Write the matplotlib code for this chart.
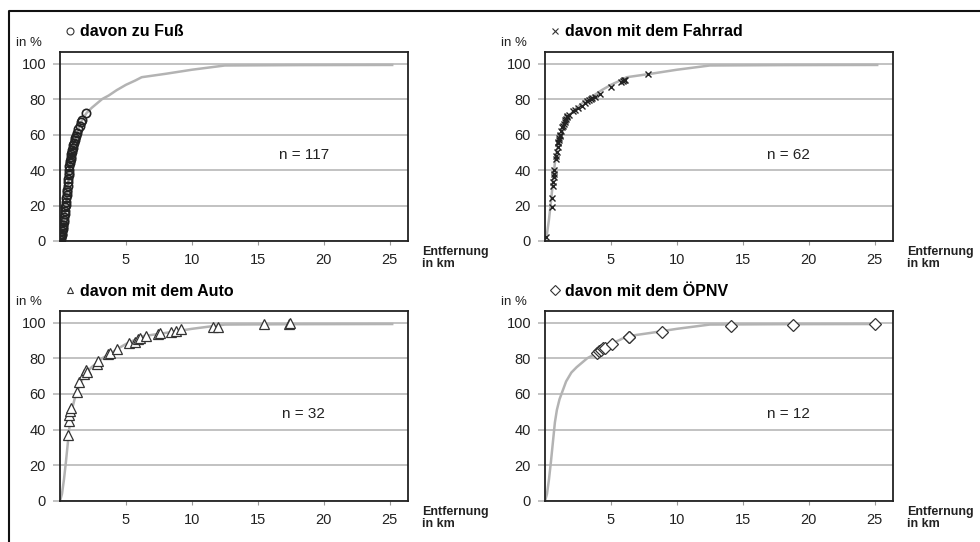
import matplotlib.pyplot as plt
from matplotlib.lines import Line2D

plt.rcParams['font.family'] = ['Liberation Sans', 'DejaVu Sans']

# Gesamtkurve (kumulierter Anteil aller Wege nach Entfernung)
total_km = [0, 0.15, 0.3, 0.45, 0.6, 0.75, 0.9, 1.1, 1.3, 1.6, 2.0, 2.4, 2.8, 3.2, 3.7,
            4.3, 5.0, 5.7, 6.2, 8.0, 10.0, 12.5, 18.0, 25.2]
total_pct = [0, 4, 12, 22, 33, 44, 51, 57, 61, 67, 72, 75, 77.5, 80, 82,
             85, 88, 90.4, 92.3, 94.2, 96.5, 98.9, 99.1, 99.2]

fuss_km = [0.02, 0.05, 0.08, 0.1, 0.12, 0.15, 0.17, 0.2, 0.22, 0.25, 0.27, 0.3, 0.32, 0.35,
           0.37, 0.4, 0.42, 0.45, 0.47, 0.5, 0.52, 0.55, 0.57, 0.6, 0.62, 0.65, 0.67, 0.7,
           0.72, 0.75, 0.78, 0.8, 0.83, 0.85, 0.88, 0.9, 0.95, 1.0, 1.05, 1.1, 1.15, 1.2,
           1.3, 1.4, 1.5, 1.6, 1.7, 2.0]
fuss_pct = [0.5, 1, 2, 3, 3.5, 4, 5.5, 7, 8, 9, 10.5, 12, 13.5, 15, 17, 19, 20.5, 22, 24,
            26, 27.5, 29, 31, 33, 35, 37, 38.5, 40, 42, 44, 45, 46, 47.5, 49, 50, 51, 52.5,
            54, 55.5, 57, 58, 59, 61, 63, 65, 67, 68, 72]

rad_km = [0.05, 0.5, 0.55, 0.6, 0.63, 0.66, 0.7, 0.72, 0.8, 0.85, 0.9, 0.95, 1.0, 1.02, 1.05,
          1.08, 1.1, 1.15, 1.25, 1.3, 1.35, 1.45, 1.5, 1.55, 1.6, 1.65, 1.7, 1.8, 2.1, 2.3,
          2.5, 2.8, 3.0, 3.2, 3.3, 3.5, 3.6, 3.8, 4.2, 5.0, 5.8, 5.9, 6.0, 6.1, 7.8]
rad_pct = [2, 19, 24, 31, 33, 36, 38, 40, 46, 48, 50, 53, 55, 56, 57,
           58, 59, 60, 62, 64, 65, 66, 67, 68, 69, 70, 70.5, 71, 73, 74,
           75, 76, 78, 79, 79.5, 80, 80.5, 81, 83, 87, 89.5, 90, 90.5, 90.8, 94]

auto_km = [0.63, 0.65, 0.7, 0.76, 0.81, 1.26, 1.44, 1.82, 2.0, 2.05, 2.78, 2.85, 3.66, 3.8,
           4.29, 5.23, 5.68, 5.93, 6.1, 6.49, 7.45, 7.6, 8.4, 8.8, 9.17, 11.6, 12.0, 15.45,
           17.4, 17.45]
auto_pct = [37, 45, 48, 50.5, 52, 61, 66.5, 71, 73.4, 72.5, 76.7, 78.6, 82.3, 82.8,
            85.3, 88.4, 89.4, 90.7, 91.6, 92.6, 93.7, 93.9, 94.6, 95.3, 96.3, 97.8, 97.8, 99,
            99.3, 99.6]

oepnv_km = [3.96, 4.1, 4.25, 4.4, 4.55, 5.1, 6.35, 6.4, 8.9, 14.1, 18.8, 25.0]
oepnv_pct = [83, 83.8, 84.5, 85.6, 86, 88, 91.8, 92, 95, 98.3, 98.7, 99.1]

panels = [
    ("davon zu Fuß", fuss_km, fuss_pct, "o", "n = 117"),
    ("davon mit dem Fahrrad", rad_km, rad_pct, "x", "n = 62"),
    ("davon mit dem Auto", auto_km, auto_pct, "^", "n = 32"),
    ("davon mit dem ÖPNV", oepnv_km, oepnv_pct, "D", "n = 12"),
]

W, H = 980, 542
fig = plt.figure(figsize=(9.8, 5.42), dpi=100)
boxes = [(60, 52, 348, 189), (545, 52, 348, 189), (60, 311, 348, 190), (545, 311, 348, 190)]

for (title, xs, ys, mk, ntxt), (l, t, w, h) in zip(panels, boxes):
    ax = fig.add_axes([l / W, 1 - (t + h) / H, w / W, h / H])
    ax.set_xlim(0, 26.4)
    ax.set_ylim(0, 106.5)
    ax.set_yticks([0, 20, 40, 60, 80, 100])
    ax.set_xticks([5, 10, 15, 20, 25])
    ax.grid(axis="y", color="#b8b8b8", lw=1.2)
    ax.set_axisbelow(True)
    for s in ax.spines.values():
        s.set_color("#222222")
        s.set_linewidth(1.3)
    ax.tick_params(axis="y", length=5, color="#b8b8b8", width=1.2, pad=5,
                   labelsize=10.5, labelcolor="#222222")
    ax.tick_params(axis="x", length=3, color="#999999", width=0.8, pad=6,
                   labelsize=10.5, labelcolor="#222222")

    ax.plot(total_km, total_pct, color="#b3b3b3", lw=1.8, zorder=2)
    if mk == "x":
        ax.plot(xs, ys, ls="none", marker="x", ms=5, mew=1.0, color="#222222", zorder=3)
    elif mk == "o":
        ax.plot(xs, ys, ls="none", marker="o", ms=6, mew=1.2, mec="#222222", mfc="none", zorder=3)
    else:
        ax.plot(xs, ys, ls="none", marker=mk, ms=6.5, mew=0.9, mec="#333333", mfc="white", zorder=3)

    ax.text(18.5, 48.5, ntxt, ha="center", va="center", fontsize=11, color="#222222")

    handle = Line2D([], [], ls="none", marker=mk, ms=5, mew=0.8,
                    color="#333333", mfc="none" if mk != "x" else "#333333")
    ax.legend([handle], [title], loc="center left",
              bbox_to_anchor=((l + 4) / W, 1 - (t - 20) / H), bbox_transform=fig.transFigure,
              frameon=False, borderpad=0, borderaxespad=0, handlelength=0.7,
              handletextpad=0.3, prop={"weight": "bold", "size": 11.5})

    fig.text((l - 44) / W, 1 - (t - 9) / H, "in %", fontsize=9.5, color="#222222",
             ha="left", va="center")
    fig.text((l + w + 14) / W, 1 - (t + h + 17) / H, "Entfernung\nin km", fontsize=9,
             fontweight="bold", color="#222222", ha="left", va="center", linespacing=1.0)

# Rahmen oben und links
fig.add_artist(Line2D([9 / W, 9 / W, 1], [0, 1 - 11 / H, 1 - 11 / H],
                      transform=fig.transFigure, color="#111111", lw=1.5))

fig.savefig("out.png", dpi=100)
